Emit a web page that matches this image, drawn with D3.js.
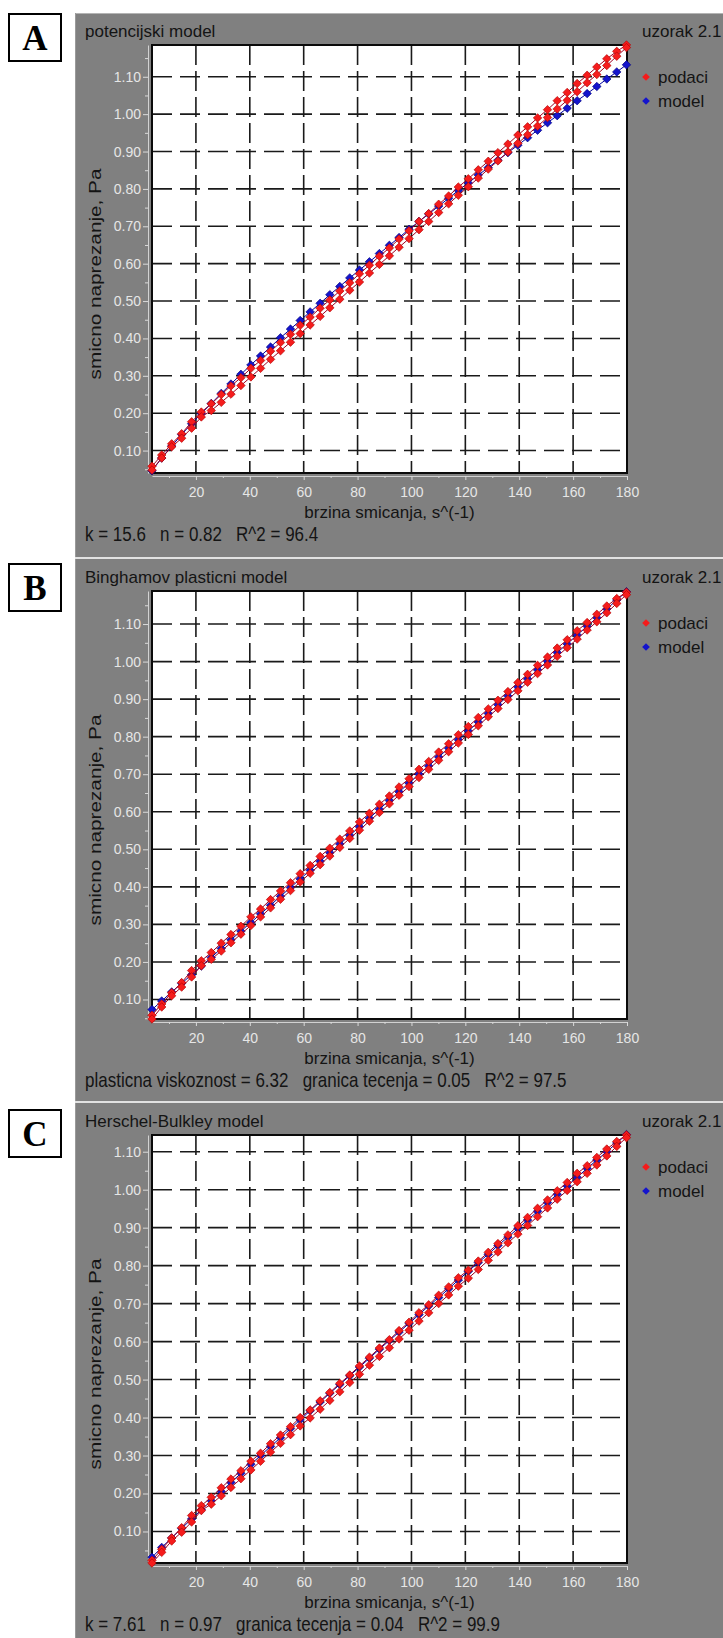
<!DOCTYPE html>
<html>
<head>
<meta charset="utf-8">
<script src="https://cdn.jsdelivr.net/npm/d3@7"></script>
<style>
html, body { margin: 0; padding: 0; background: #fff; }
svg { display: block; }
text { font-family: "Liberation Sans", Arial, sans-serif; }
</style>
</head>
<body>
<svg id="chart" width="723" height="1638"></svg>
<script>

// shear rate steps, s^(-1)
const shearRate = [3.7, 7.3, 11.0, 14.7, 18.4, 22.0, 25.7, 29.4, 33.0, 36.7, 40.4, 44.0, 47.7, 51.4, 55.1, 58.7,
	62.4, 66.1, 69.7, 73.4, 77.1, 80.7, 84.4, 88.1, 91.8, 95.4, 99.1, 102.8, 106.4, 110.1, 113.8, 117.4,
	121.1, 124.8, 128.5, 132.1, 135.8, 139.5, 143.1, 146.8, 150.5, 154.1, 157.8, 161.5, 165.2, 168.8,
	172.5, 176.2, 179.8];

// measured shear stress (panels A and B), ramp up / ramp down, Pa
const dataUpAB = [0.058, 0.088, 0.118, 0.145, 0.177, 0.203, 0.225, 0.250, 0.273, 0.295, 0.320, 0.341, 0.366, 0.389,
	0.411, 0.435, 0.457, 0.481, 0.503, 0.527, 0.549, 0.573, 0.596, 0.620, 0.642, 0.666, 0.688, 0.713, 0.734,
	0.759, 0.781, 0.805, 0.827, 0.851, 0.874, 0.897, 0.920, 0.944, 0.966, 0.990, 1.012, 1.036, 1.058, 1.082,
	1.104, 1.126, 1.148, 1.168, 1.185];
const dataDownAB = [0.048, 0.080, 0.110, 0.133, 0.160, 0.190, 0.207, 0.229, 0.251, 0.274, 0.297, 0.320, 0.344, 0.367,
	0.390, 0.413, 0.436, 0.459, 0.482, 0.505, 0.529, 0.551, 0.575, 0.598, 0.621, 0.644, 0.667, 0.691, 0.713,
	0.737, 0.760, 0.783, 0.806, 0.829, 0.853, 0.875, 0.899, 0.922, 0.945, 0.968, 0.991, 1.014, 1.037, 1.060,
	1.084, 1.106, 1.130, 1.155, 1.178];

// measured shear stress (panel C)
const dataUpC = [0.024, 0.053, 0.083, 0.110, 0.142, 0.168, 0.190, 0.215, 0.238, 0.260, 0.285, 0.306, 0.331, 0.354,
	0.376, 0.400, 0.420, 0.444, 0.466, 0.490, 0.512, 0.536, 0.559, 0.583, 0.605, 0.629, 0.651, 0.676, 0.697,
	0.722, 0.744, 0.768, 0.788, 0.812, 0.835, 0.858, 0.881, 0.905, 0.927, 0.951, 0.973, 0.997, 1.019, 1.043,
	1.063, 1.085, 1.107, 1.127, 1.144];
const dataDownC = [0.017, 0.045, 0.075, 0.098, 0.125, 0.155, 0.172, 0.194, 0.216, 0.239, 0.262, 0.285, 0.309, 0.332,
	0.355, 0.378, 0.399, 0.422, 0.445, 0.468, 0.492, 0.514, 0.538, 0.561, 0.584, 0.607, 0.630, 0.654, 0.676,
	0.700, 0.723, 0.746, 0.767, 0.790, 0.814, 0.836, 0.860, 0.883, 0.906, 0.929, 0.952, 0.975, 0.998, 1.021,
	1.043, 1.065, 1.089, 1.114, 1.137];

// model curves
const modelPower = [0.046, 0.080, 0.112, 0.143, 0.172, 0.199, 0.226, 0.253, 0.278, 0.304, 0.329, 0.353, 0.377, 0.402,
	0.425, 0.448, 0.471, 0.494, 0.517, 0.539, 0.562, 0.583, 0.605, 0.627, 0.649, 0.670, 0.692, 0.713, 0.733,
	0.754, 0.775, 0.796, 0.816, 0.837, 0.857, 0.877, 0.897, 0.917, 0.937, 0.957, 0.977, 0.996, 1.016, 1.036,
	1.055, 1.074, 1.094, 1.113, 1.132];
const modelBingham = [0.073, 0.096, 0.120, 0.143, 0.166, 0.189, 0.212, 0.236, 0.259, 0.282, 0.305, 0.328, 0.351, 0.375,
	0.398, 0.421, 0.444, 0.468, 0.491, 0.514, 0.537, 0.560, 0.583, 0.607, 0.630, 0.653, 0.676, 0.700, 0.722,
	0.746, 0.769, 0.792, 0.815, 0.839, 0.862, 0.885, 0.908, 0.932, 0.954, 0.978, 1.001, 1.024, 1.047, 1.071,
	1.094, 1.117, 1.140, 1.164, 1.186];
const modelHB = [0.032, 0.058, 0.083, 0.108, 0.133, 0.157, 0.181, 0.205, 0.229, 0.253, 0.277, 0.300, 0.324, 0.347,
	0.371, 0.394, 0.418, 0.441, 0.464, 0.487, 0.510, 0.533, 0.556, 0.580, 0.603, 0.625, 0.648, 0.671, 0.694,
	0.716, 0.739, 0.762, 0.785, 0.808, 0.830, 0.853, 0.875, 0.898, 0.920, 0.943, 0.966, 0.988, 1.010, 1.033,
	1.056, 1.078, 1.100, 1.123, 1.145];

const xDomain = [3.7, 180];
const yDomains = [[0.04, 1.185], [0.048, 1.188], [0.017, 1.144]];
const xMajorTicks = [20, 40, 60, 80, 100, 120, 140, 160, 180];
const xMinorTicks = [10, 30, 50, 70, 90, 110, 130, 150, 170];
const yMajorTicks = [0.10, 0.20, 0.30, 0.40, 0.50, 0.60, 0.70, 0.80, 0.90, 1.00, 1.10];
const yMinorTicks = [0.05, 0.15, 0.25, 0.35, 0.45, 0.55, 0.65, 0.75, 0.85, 0.95, 1.05, 1.15];

const panelLetters = ["A", "B", "C"];
const panelTitles = ["potencijski model", "Binghamov plasticni model", "Herschel-Bulkley model"];
const panelStats = [
	"k = 15.6   n = 0.82   R^2 = 96.4",
	"plasticna viskoznost = 6.32   granica tecenja = 0.05   R^2 = 97.5",
	"k = 7.61   n = 0.97   granica tecenja = 0.04   R^2 = 99.9"
];
const panelModels = [modelPower, modelBingham, modelHB];
const panelUp = [dataUpAB, dataUpAB, dataUpC];
const panelDown = [dataDownAB, dataDownAB, dataDownC];
const sampleName = "uzorak 2.1";
const legendNames = ["podaci", "model"];
const xTitle = "brzina smicanja, s^(-1)";
const yTitle = "smicno naprezanje, Pa";

const svg = d3.select("#chart");

const panelTops = [13, 559, 1103];
const panelBottoms = [557, 1101, 1638];
const boxTops = [13, 563, 1109];

const plotLeft = 152, plotRight = 627, plotTop = 32, plotH = 428;
const redFill = "#f51c1c", redEdge = "#b00000", blueFill = "#1414cc", blueEdge = "#00007a";

const marker = d3.symbol(d3.symbolSquare, 36);

function drawPanel(i) {
	const T = panelTops[i];
	const g = svg.append("g").attr("transform", "translate(0," + T + ")");

	g.append("rect")
		.attr("x", 75).attr("y", 0)
		.attr("width", 648).attr("height", panelBottoms[i] - T)
		.attr("fill", "#808080");
	// light top edge of the panel
	g.append("line")
		.attr("x1", 75).attr("x2", 723)
		.attr("y1", i == 0 ? 0.5 : -1).attr("y2", i == 0 ? 0.5 : -1)
		.attr("stroke", i == 0 ? "#b4b4b4" : "#e2e2e2")
		.attr("stroke-width", i == 0 ? 1 : 2);
	g.append("line")
		.attr("x1", 75.5).attr("x2", 75.5)
		.attr("y1", 0).attr("y2", panelBottoms[i] - T)
		.attr("stroke", "#9a9a9a");

	// letter box
	svg.append("rect")
		.attr("x", 9).attr("y", boxTops[i] + 1)
		.attr("width", 52).attr("height", 47)
		.attr("fill", "#fff").attr("stroke", "#000").attr("stroke-width", 2);
	svg.append("text")
		.attr("x", 35).attr("y", boxTops[i] + 37)
		.attr("text-anchor", "middle")
		.style("font-family", "'Liberation Serif', 'Times New Roman', serif")
		.style("font-weight", "bold")
		.style("font-size", "35px")
		.attr("fill", "#000")
		.text(panelLetters[i]);

	// titles
	g.append("text").attr("x", 85).attr("y", 24)
		.style("font-size", "17px").attr("fill", "#141414")
		.text(panelTitles[i]);
	g.append("text").attr("x", 642).attr("y", 24)
		.style("font-size", "17px").attr("fill", "#141414")
		.text(sampleName);

	const x = d3.scaleLinear().domain(xDomain).range([plotLeft, plotRight]);
	const y = d3.scaleLinear().domain(yDomains[i]).range([plotTop + plotH, plotTop]);

	g.append("rect")
		.attr("x", plotLeft).attr("y", plotTop)
		.attr("width", plotRight - plotLeft).attr("height", plotH)
		.attr("fill", "#fff");

	// grid
	const grid = g.append("g");
	grid.selectAll("line.gx")
		.data(xMajorTicks.filter(d => d < xDomain[1]))
		.enter().append("line")
		.attr("class", "gx")
		.attr("x1", d => x(d)).attr("x2", d => x(d))
		.attr("y1", plotTop).attr("y2", plotTop + plotH)
		.attr("stroke", "#1a1a1a").attr("stroke-width", 1.6)
		.attr("stroke-dasharray", "20,6");
	grid.selectAll("line.gy")
		.data(yMajorTicks)
		.enter().append("line")
		.attr("class", "gy")
		.attr("x1", plotLeft).attr("x2", plotRight)
		.attr("y1", d => y(d)).attr("y2", d => y(d))
		.attr("stroke", "#1a1a1a").attr("stroke-width", 1.6)
		.attr("stroke-dasharray", "20,8");

	g.append("rect")
		.attr("x", plotLeft).attr("y", plotTop)
		.attr("width", plotRight - plotLeft).attr("height", plotH)
		.attr("fill", "none").attr("stroke", "#0a0a0a").attr("stroke-width", 2);

	// axes
	function styleAxis(sel) {
		sel.attr("font-size", 14).attr("font-family", "'Liberation Sans', Arial, sans-serif");
		sel.select(".domain").attr("stroke", "#d2d2d2");
		sel.selectAll(".tick line").attr("stroke", "#dadada");
		sel.selectAll(".tick text").attr("fill", "#e6e6e6");
	}
	const yMin = yDomains[i][0], yMax = yDomains[i][1];
	g.append("g").attr("transform", "translate(148,0)")
		.call(d3.axisLeft(y).tickValues(yMajorTicks).tickSize(5).tickSizeOuter(0).tickPadding(2).tickFormat(d3.format(".2f")))
		.call(styleAxis);
	g.append("g").attr("transform", "translate(148,0)")
		.call(d3.axisLeft(y).tickValues(yMinorTicks.filter(d => d > yMin && d < yMax)).tickSize(3).tickFormat(""))
		.call(styleAxis)
		.select(".domain").remove();
	g.append("g").attr("transform", "translate(0," + (plotTop + plotH + 3) + ")")
		.call(d3.axisBottom(x).tickValues(xMajorTicks).tickSize(4).tickSizeOuter(0).tickPadding(7))
		.call(styleAxis);
	g.append("g").attr("transform", "translate(0," + (plotTop + plotH + 3) + ")")
		.call(d3.axisBottom(x).tickValues(xMinorTicks).tickSize(2).tickFormat(""))
		.call(styleAxis)
		.select(".domain").remove();

	// axis titles and fit stats
	g.append("text")
		.attr("x", (plotLeft + plotRight) / 2).attr("y", plotTop + plotH + 45)
		.attr("text-anchor", "middle")
		.style("font-size", "17px").attr("fill", "#141414")
		.text(xTitle);
	g.append("text")
		.attr("transform", "translate(101," + (plotTop + plotH / 2 + 15) + ") rotate(-90) scale(1.22,1)")
		.attr("text-anchor", "middle")
		.style("font-size", "17px").attr("fill", "#141414")
		.text(yTitle);
	g.append("text")
		.attr("transform", "translate(85," + (plotTop + plotH + 68) + ") scale(1,1.18)")
		.style("font-size", "17px").style("white-space", "pre").attr("fill", "#141414")
		.text(panelStats[i]);

	// series
	const model = shearRate.map((s, k) => [s, panelModels[i][k]]);
	const up = shearRate.map((s, k) => [s, panelUp[i][k]]);
	const down = shearRate.map((s, k) => [s, panelDown[i][k]]);
	const loop = up.concat(down.slice().reverse());
	const line = d3.line().x(d => x(d[0])).y(d => y(d[1]));

	g.append("path").datum(model).attr("d", line)
		.attr("fill", "none").attr("stroke", "#0000a0").attr("stroke-width", 1);
	g.selectAll("path.mm").data(model).enter().append("path")
		.attr("class", "mm")
		.attr("d", marker)
		.attr("transform", d => "translate(" + x(d[0]) + "," + y(d[1]) + ") rotate(45)")
		.attr("fill", blueFill).attr("stroke", blueEdge).attr("stroke-width", 0.6);

	g.append("path").datum(loop).attr("d", line)
		.attr("fill", "none").attr("stroke", "#a00020").attr("stroke-width", 1);
	g.selectAll("path.dm").data(loop).enter().append("path")
		.attr("class", "dm")
		.attr("d", marker)
		.attr("transform", d => "translate(" + x(d[0]) + "," + y(d[1]) + ") rotate(45)")
		.attr("fill", redFill).attr("stroke", redEdge).attr("stroke-width", 0.6);

	// legend
	const legend = g.append("g");
	legendNames.forEach((name, k) => {
		legend.append("path")
			.attr("d", d3.symbol(d3.symbolSquare, 30))
			.attr("transform", "translate(646," + (64 + k * 24) + ") rotate(45)")
			.attr("fill", k == 0 ? redFill : blueFill);
		legend.append("text")
			.attr("x", 658).attr("y", 70 + k * 24)
			.style("font-size", "17px").attr("fill", "#141414")
			.text(name);
	});
}

[0, 1, 2].forEach(drawPanel);

</script>
</body>
</html>
